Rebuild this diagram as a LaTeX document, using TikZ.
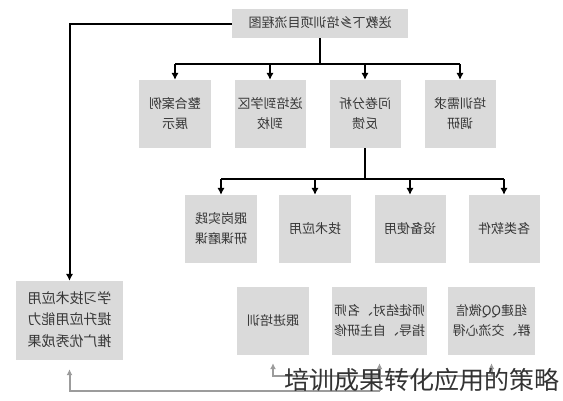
\documentclass[tikz,border=0pt]{standalone}
\usepackage{fontspec}
\usepackage{graphicx}
\newfontfamily\cjk{Noto Sans CJK SC}
\usetikzlibrary{arrows.meta}
\definecolor{boxfill}{HTML}{DADADA}
\definecolor{boxtext}{HTML}{363636}
\definecolor{gline}{HTML}{9C9C9C}
\newcommand{\mir}[1]{\reflectbox{\begin{tabular}{@{}c@{}}#1\end{tabular}}}
\begin{document}
\begin{tikzpicture}[x=1pt,y=-1pt,
  box/.style={fill=boxfill,draw=none,inner sep=0pt,text=boxtext,
    font=\cjk\fontsize{13}{20}\selectfont},
  arr/.style={line width=2pt,black,-{Latex[length=7pt,width=7.5pt]}},
  ln/.style={line width=2pt,black},
  garr/.style={line width=2pt,gline,-{Latex[length=6pt,width=6pt]}},
]
\useasboundingbox (0,0) rectangle (563,400);
% title
\node[box,minimum width=176pt,minimum height=29pt] (title) at (320,23.5) {\mir{送教下乡培训项目流程图}};
% row 1
\node[box,minimum width=72pt,minimum height=68pt] (a1) at (175,114) {\mir{整合案例\\展示}};
\node[box,minimum width=71pt,minimum height=68pt] (a2) at (270,114) {\mir{送培到学区\\到校}};
\node[box,minimum width=71pt,minimum height=68pt] (a3) at (365,114) {\mir{问卷分析\\反馈}};
\node[box,minimum width=71pt,minimum height=68pt] (a4) at (460,114) {\mir{培训需求\\调研}};
% row 2
\node[box,minimum width=72pt,minimum height=68pt] (b1) at (221,229) {\mir{跟岗实践\\研课磨课}};
\node[box,minimum width=72pt,minimum height=68pt] (b2) at (315,229) {\mir{技术应用}};
\node[box,minimum width=71pt,minimum height=68pt] (b3) at (410,229) {\mir{设备使用}};
\node[box,minimum width=71pt,minimum height=68pt] (b4) at (504,229) {\mir{各类软件}};
% left box
\node[box,minimum width=107pt,minimum height=79pt,font=\cjk\fontsize{14}{21.5}\selectfont] (lb) at (69.5,320.5) {\mir{学习技术应用\\提升应用能力\\推广优秀成果}};
% row 3
\node[box,minimum width=72pt,minimum height=68pt] (c1) at (273,321) {\mir{跟进培训}};
\node[box,minimum width=95pt,minimum height=68pt] (c2) at (379.5,321) {\mir{师徒结对、名师\\指导、自主研修}};
\node[box,minimum width=87pt,minimum height=68pt] (c3) at (491.5,321) {\mir{组建QQ微信\\群、交流心得}};
% black connectors
\coordinate (bus1) at (320,64);
\draw[ln] (title.south) -- (bus1);
\draw[ln] (a1.north |- bus1) -- (a4.north |- bus1);
\foreach \n in {a1,a2,a3,a4}{\draw[arr] (\n.north |- bus1) -- (\n.north);}
\coordinate (bus2) at (365,179);
\draw[ln] (a3.south) -- (bus2);
\draw[ln] (b1.north |- bus2) -- (b4.north |- bus2);
\foreach \n in {b1,b2,b3,b4}{\draw[arr] (\n.north |- bus2) -- (\n.north);}
\draw[arr] (title.west) -| (lb.north);
% gray connectors
\coordinate (g1) at (379.5,391);
\coordinate (g2) at (379.5,376);
\draw[garr,shorten >=9pt] (g1) -| (lb.south);
\draw[garr,shorten >=8pt] (g1) -- (c2.south);
\draw[garr,shorten >=8pt] (g2) -| (c1.south);
\draw[garr,shorten >=8pt] (g2) -| (c3.south);
% caption
\node[text=black!80,inner sep=0pt,font=\cjk\fontsize{25}{28}\selectfont] (cap) at (421.5,380) {培训成果转化应用的策略};
\end{tikzpicture}
\end{document}
